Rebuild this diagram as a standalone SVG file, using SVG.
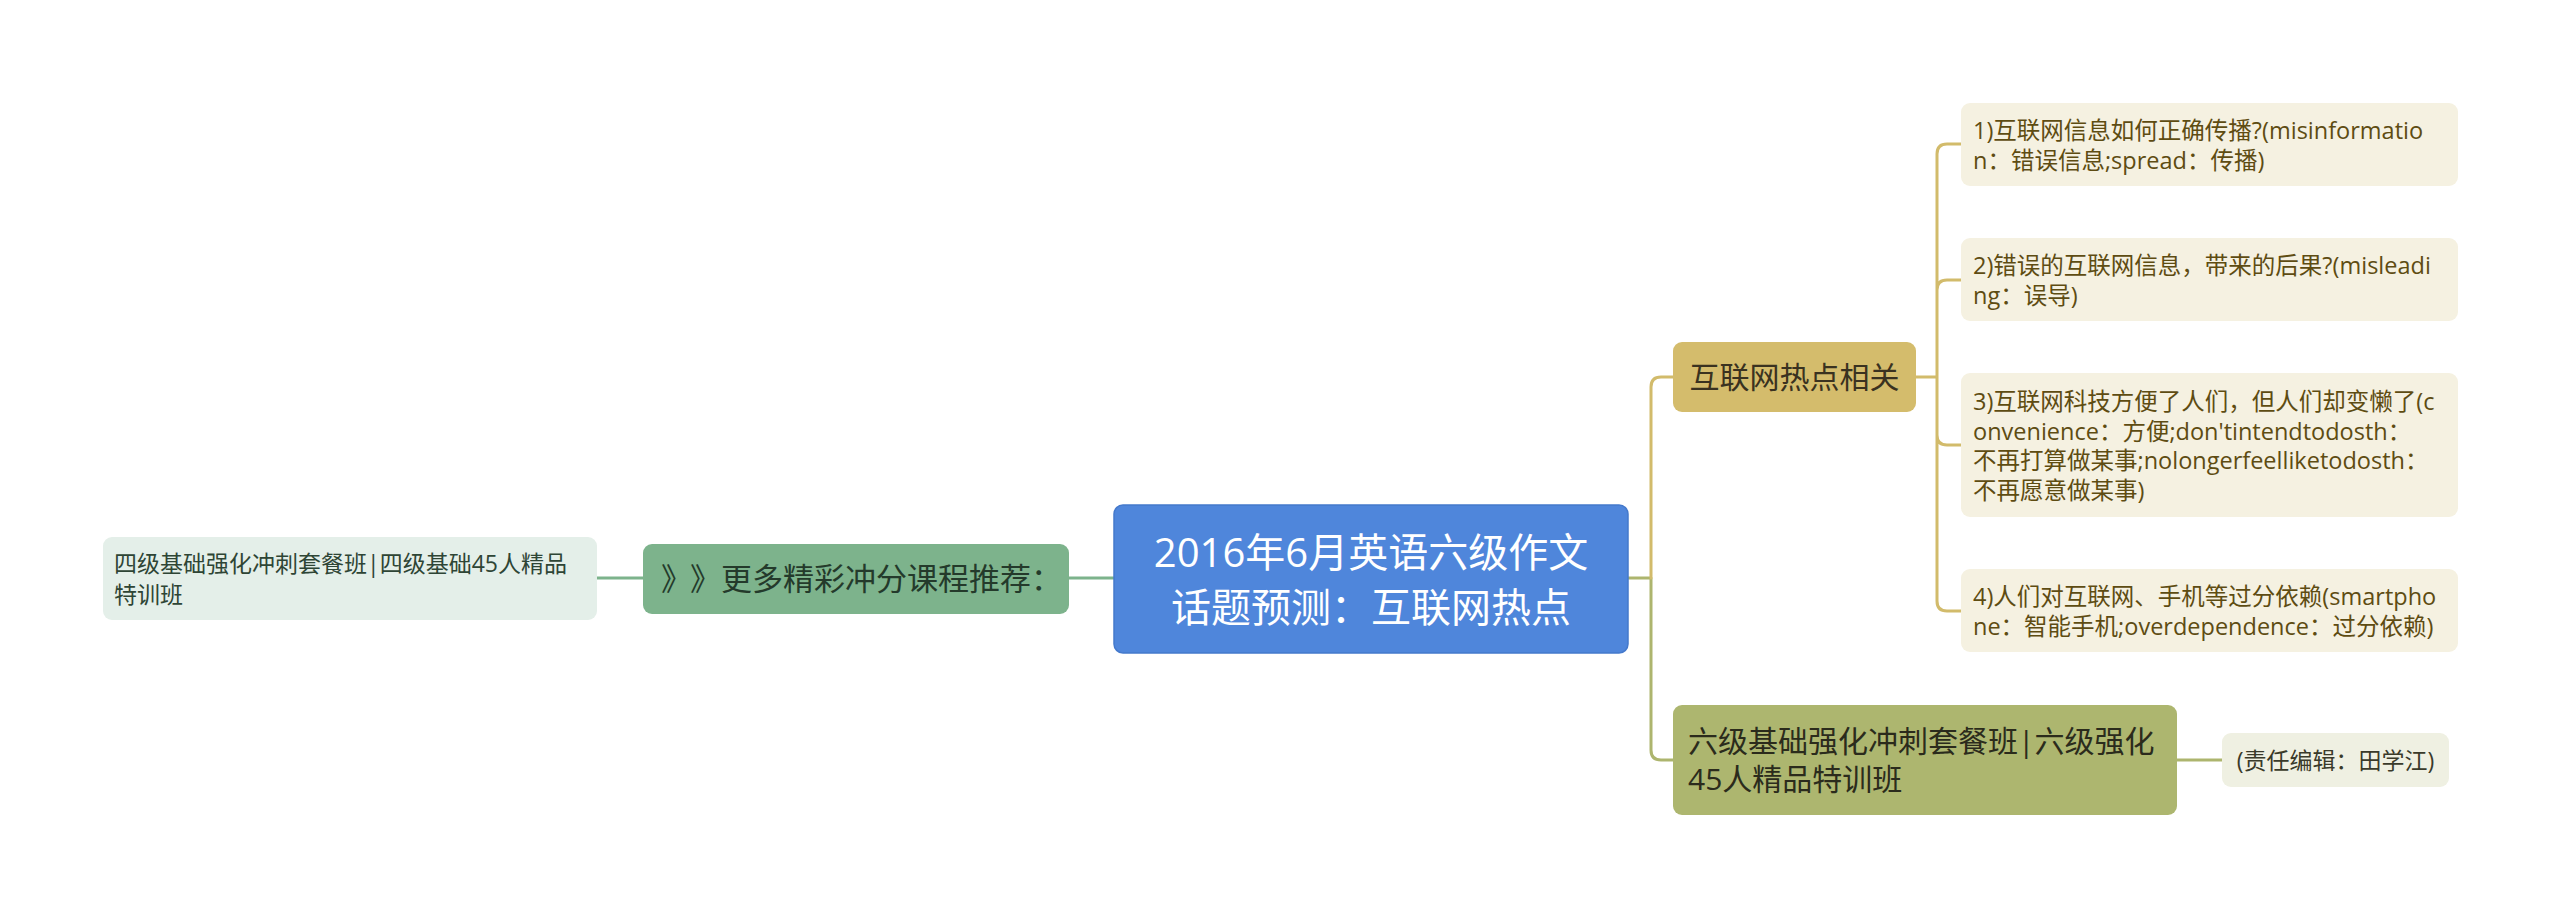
<svg xmlns="http://www.w3.org/2000/svg" width="2560" height="918" viewBox="0 0 2560 918">
<style>
text{font-family:"Open Sans","Noto Sans CJK SC","Noto Sans",sans-serif}
.c{fill:none;stroke-width:3;stroke-linecap:round}
.t24{font-size:23.5px;fill:#5e4c12}
.cjk{font-family:"Noto Sans CJK SC","Noto Sans",sans-serif}
</style>
<rect width="2560" height="918" fill="#ffffff"/>
<g id="connectors">
<path class="c" stroke="#7db38c" d="M597,578 H643 M1069,578 H1114"/>
<path class="c" stroke="#adb56e" d="M1628,578 H1651 M1651,578 V750 Q1651,760 1661,760 H1673"/>
<path class="c" stroke="#d2bb6b" d="M1651,578 V387 Q1651,377 1661,377 H1673"/>
<path class="c" stroke="#d2bb6b" d="M1916,377 H1937 M1937,377 V154 Q1937,144 1947,144 H1961 M1937,377 V290 Q1937,280 1947,280 H1961 M1937,377 V435 Q1937,445 1947,445 H1961 M1937,377 V601 Q1937,611 1947,611 H1961"/>
<path class="c" stroke="#adb56e" d="M2177,760 H2222"/>
</g>
<g id="root">
<rect x="1114" y="505" width="514" height="148" rx="9" fill="#4f86db" stroke="#4479cc" stroke-width="1.5"/>
<text x="1371" y="567" font-size="40" fill="#ffffff" text-anchor="middle">2016年6月英语六级作文</text>
<text x="1371" y="622" font-size="40" fill="#ffffff" text-anchor="middle">话题预测：互联网热点</text>
</g>
<g id="more">
<rect x="643" y="544" width="426" height="70" rx="9" fill="#7db38c"/>
<text class="cjk" x="661 690 721" y="590" font-size="31" fill="#243a2b">》》更多精彩冲分课程推荐：</text>
</g>
<g id="cet4">
<rect x="103" y="537" width="494" height="83" rx="9" fill="#e4efe9"/>
<text x="114" y="572" font-size="23" fill="#2e4535">四级基础强化冲刺套餐班|四级基础45人精品</text>
<text x="114" y="603" font-size="23" fill="#2e4535">特训班</text>
</g>
<g id="hot">
<rect x="1673" y="342" width="243" height="70" rx="9" fill="#d4bc6c"/>
<text x="1794.5" y="388" font-size="30" fill="#3a3220" text-anchor="middle">互联网热点相关</text>
</g>
<g id="item1">
<rect x="1961" y="103" width="497" height="83" rx="9" fill="#f5f1e1"/>
<text class="t24" x="1973" y="138.5">1)互联网信息如何正确传播?(misinformatio</text>
<text class="t24" x="1973" y="168.5">n：错误信息;spread：传播)</text>
</g>
<g id="item2">
<rect x="1961" y="238" width="497" height="83" rx="9" fill="#f5f1e1"/>
<text class="t24" x="1973" y="273.5">2)错误的互联网信息，带来的后果?(misleadi</text>
<text class="t24" x="1973" y="303.5">ng：误导)</text>
</g>
<g id="item3">
<rect x="1961" y="373" width="497" height="144" rx="9" fill="#f5f1e1"/>
<text class="t24" x="1973" y="410">3)互联网科技方便了人们，但人们却变懒了(c</text>
<text class="t24" x="1973" y="439.5">onvenience：方便;don'tintendtodosth：</text>
<text class="t24" x="1973" y="469">不再打算做某事;nolongerfeelliketodosth：</text>
<text class="t24" x="1973" y="498.5">不再愿意做某事)</text>
</g>
<g id="item4">
<rect x="1961" y="569" width="497" height="83" rx="9" fill="#f5f1e1"/>
<text class="t24" x="1973" y="604.5">4)人们对互联网、手机等过分依赖(smartpho</text>
<text class="t24" x="1973" y="634.5">ne：智能手机;overdependence：过分依赖)</text>
</g>
<g id="cet6">
<rect x="1673" y="705" width="504" height="110" rx="9" fill="#adb66f"/>
<text x="1688" y="752" font-size="30" fill="#2b2b1c">六级基础强化冲刺套餐班|六级强化</text>
<text x="1688" y="790" font-size="30" fill="#2b2b1c">45人精品特训班</text>
</g>
<g id="editor">
<rect x="2222" y="733" width="227" height="54" rx="9" fill="#eff0e2"/>
<text x="2335.5" y="769" font-size="23" fill="#3a3a2a" text-anchor="middle">(责任编辑：田学江)</text>
</g>
</svg>
